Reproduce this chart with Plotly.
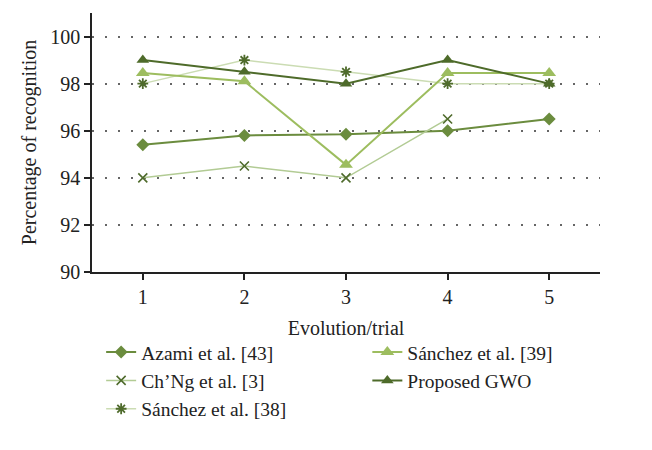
import plotly.graph_objects as go

trials = [1, 2, 3, 4, 5]
azami = [95.4, 95.8, 95.85, 96.0, 96.5]
chng = [94.0, 94.5, 94.0, 96.5, None]
sanchez38 = [98.0, 99.0, 98.5, 98.0, 98.0]
sanchez39 = [98.45, 98.1, 94.55, 98.45, 98.45]
gwo = [99.0, 98.5, 98.0, 99.0, 98.0]
y_ticks = [90, 92, 94, 96, 98, 100]

font_family = "Liberation Serif"

fig = go.Figure()

def add(name, y, line_color, marker_color, symbol, size, legend, lw=1.5, mline=0):
    fig.add_trace(go.Scatter(
        x=trials, y=y, name=name, mode="lines+markers",
        line=dict(color=line_color, width=lw),
        marker=dict(symbol=symbol, size=size, color=marker_color,
                    line=dict(color=marker_color, width=mline)),
        legend=legend, connectgaps=False,
    ))

add("Azami et al. [43]", azami, "#6b8c3e", "#6b8c3e", "diamond", 10, "legend", lw=2)
add("Ch’Ng et al. [3]", chng, "#b2cb94", "#4f6b2c", "x-thin-open", 9, "legend", lw=1.5, mline=1.6)
add("Sánchez et al. [38]", sanchez38, "#cbdcb3", "#4f6b2c", "asterisk-open", 9, "legend", lw=1.5, mline=1.8)
add("Sánchez et al. [39]", sanchez39, "#9dbd5f", "#9dbd5f", "triangle-up", 12, "legend2", lw=2)
add("Proposed GWO", gwo, "#4e6b2a", "#4e6b2a", "triangle-up", 11, "legend2", lw=2)

legend_common = dict(orientation="v", yanchor="top", xanchor="left",
                     font=dict(size=19.5, family=font_family, color="#222"),
                     itemwidth=30, traceorder="normal", bgcolor="rgba(0,0,0,0)")

fig.update_layout(
    width=652, height=450,
    margin=dict(l=84, r=60, t=5, b=186),
    paper_bgcolor="white", plot_bgcolor="white",
    font=dict(family=font_family, size=20, color="#222"),
    showlegend=True,
    legend=dict(x=0.018, y=-0.235, **legend_common),
    legend2=dict(x=0.542, y=-0.235, **legend_common),
)
fig.update_xaxes(
    range=[0.5, 5.5], tickvals=trials, ticks="outside", ticklen=6, tickwidth=1.5,
    tickcolor="#222", showline=True, linecolor="#222", linewidth=1.5,
    showgrid=False, zeroline=False, automargin=False,
    title=dict(text="Evolution/trial", font=dict(size=20), standoff=14),
    tickfont=dict(size=20),
)
fig.update_yaxes(
    range=[90, 101], tickvals=y_ticks, ticks="outside", ticklen=6, tickwidth=1.5,
    tickcolor="#222", showline=True, linecolor="#222", linewidth=1.5,
    showgrid=True, gridcolor="#666", griddash="2px,11px", gridwidth=1.5, zeroline=False,
    automargin=False,
    title=dict(text="Percentage of recognition", font=dict(size=20), standoff=8),
    tickfont=dict(size=20),
)

fig.write_html("out.html")
